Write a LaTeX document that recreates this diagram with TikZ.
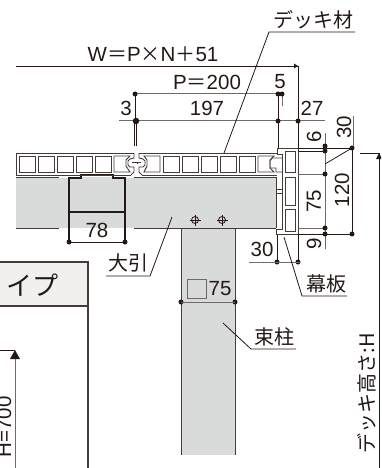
\documentclass[tikz,border=0pt]{standalone}
\usepackage{fontspec}
\setmainfont{Liberation Sans}
\newfontfamily\jpfont{Noto Sans CJK JP}
\definecolor{ink}{HTML}{231815}
\definecolor{beam}{HTML}{D9DBDA}
\definecolor{dimgr}{HTML}{6E6A68}
\definecolor{boxfill}{HTML}{F1F0EE}
\tikzset{
  dimline/.style={draw=ink,line width=0.8pt},
  greyline/.style={draw=dimgr,line width=1pt},
  outline/.style={draw=ink!85,line width=1pt},
  heavy/.style={draw=ink,line width=1.4pt},
  cellbox/.style={draw=ink!85,line width=0.95pt},
  numlabel/.style={text=ink,inner sep=0pt,font=\fontsize{20.5}{20.5}\selectfont},
  jplabel/.style={text=ink,inner sep=0pt,font=\jpfont\fontsize{20}{20}\selectfont},
  dotmark/.style={circle,fill=ink,inner sep=0pt,minimum size=5pt},
}
\newcommand{\wsym}[1]{{\jpfont\fontsize{20}{20}\selectfont #1}}
\begin{document}
\begin{tikzpicture}[x=1pt,y=-1pt]
\useasboundingbox (0,0) rectangle (381,468);
\clip (0,0) rectangle (381,468);
% beam and post
\fill[beam] (16,177) rectangle (276,228);
\fill[beam] (181,228) rectangle (235,455);
\draw[outline] (16,177) -- (59,177) (134,177) -- (276,177);
\draw[outline] (16,228) -- (59,228) (134,228) -- (276,228);
\draw[outline] (276,177) -- (276,228);
\draw[outline] (181,228) -- (181,455) (235,228) -- (235,455);
% channel
\fill[white] (59,176) rectangle (69,177.6);
\fill[white] (125,176) rectangle (134,177.6);
\draw[heavy] (69,243) -- (69,178) -- (81,178) -- (81,175) -- (113,175) -- (113,178) -- (125,178) -- (125,243);
\draw[heavy] (69,212) -- (125,212);
% deck board
\draw[cellbox] (16,153) -- (134,153) (139,153) -- (277,153);
\draw[cellbox] (16,175) -- (131,175) (142,175) -- (277,175);
\draw[cellbox] (16,153) -- (16,175);
\foreach \x in {19,38,57,76,95} \draw[cellbox] (\x,156) rectangle +(16,16);
\draw[cellbox] (114,156) -- (130,156) -- (126,160) -- (126,166) -- (130,172) -- (114,172) -- cycle;
\foreach \x in {163,182,201,220,239} \draw[cellbox] (\x,156) rectangle +(16,16);
\draw[cellbox] (144,172) -- (160,172) -- (160,156) -- (144,156) -- (147,160) -- (147,166) -- cycle;
\draw[cellbox] (258,156) -- (274,156) -- (270,160) -- (270,168) -- (274,172) -- (258,172) -- cycle;
% joint
\draw[cellbox] (134,153) -- (134,158) -- (130,159) -- (128,161) -- (128,165) -- (130,167) -- (134,167) -- (134,172) -- (131,175);
\draw[cellbox] (139,153) -- (139,158) -- (143,159) -- (145,161) -- (145,165) -- (143,167) -- (139,167) -- (139,172) -- (142,175);
\draw[cellbox] (132,162) -- (137,162) -- (137,164) (141,162) -- (136.5,162);
% skirt board
\draw[cellbox] (298,234) -- (298,148) -- (277,148) -- (277,154) -- (282,154) -- (282,229) -- (276,229) -- (276,234) -- (298,234);
\draw[cellbox] (282,158) -- (272,158) -- (270,161) -- (270,168) -- (276,168) -- (276,172) -- (282,172);
\draw[cellbox] (276,189) -- (282,189) (276,193) -- (282,193);
\foreach \ya/\yb in {151/172,177/205,209/231} \draw[cellbox] (285,\ya) rectangle (295,\yb);
% bolts
\foreach \x in {195,222} {
  \draw[ink,line width=0.8pt] (\x,220) circle (3.5);
  \draw[ink,line width=0.8pt] (\x-5.5,220) -- (\x+5.5,220) (\x,214.5) -- (\x,225.5);
}
% overall dims
\coordinate (wa) at (16,66); \coordinate (wb) at (298,66);
\draw[dimline] (wa) -- (wb);
\fill[ink] (298,66) -- (294,63.5) -- (294,68.5) -- cycle;
\draw[dimline] (298,66) -- (298,148);
\coordinate (pa) at (135,94); \coordinate (pb) at (278,94);
\draw[greyline] (pa) -- (pb);
\draw[dimline] (pa) -- (135,121);
\draw[dimline] (pb) -- (278,148);
\draw[greyline] (282,94) -- (282,106);
\draw[greyline] (119,121) -- (325,121);
\draw[ink,line width=2.8pt] (135.7,121) -- (135.7,146);
\draw[white,line width=0.5pt] (135.7,123) -- (135.7,146);
\foreach \p in {(135,94),(278,94),(282,94),(278,121),(298,121)} \node[dotmark] at \p {};
\node[dotmark,minimum size=6.5pt] at (136,121) {};
% right dims
\draw[dimline] (298,148) -- (353,148);
\draw[dimline] (298,151) -- (325,151);
\draw[greyline] (298,174) -- (325,174);
\draw[greyline] (298,228) -- (325,228);
\draw[dimline] (298,234) -- (353,234);
\draw[greyline] (325,133) -- (325,249);
\draw[dimline] (352,148) -- (352,234);
\draw[greyline] (353,116) -- (353,148);
\draw[dimline] (325,164) -- (352,148);
\foreach \p in {(325,146),(325,151),(352,148),(325,174),(325,228),(325,234),(352,234),(277,262),(298,262),(69,242),(125,242),(181,302),(235,302)} \node[dotmark] at \p {};
% lower dims
\draw[greyline] (249,262) -- (300,262);
\draw[dimline] (277,235) -- (277,262) (298,235) -- (298,262);
\draw[dimline] (69,242) -- (125,242);
\draw[greyline] (181,302) -- (235,302);
\draw[draw=dimgr,line width=0.8pt] (187,279) rectangle (206,298);
% labels
\node[numlabel] (lw) at (153,54) {W\wsym{＝}P\wsym{×}N\wsym{＋}51};
\node[numlabel] (lp) at (207,82) {P\wsym{＝}200};
\node[numlabel] (l5) at (280,82) {5};
\node[numlabel] (l3) at (126,108) {3};
\node[numlabel] (l197) at (207,108) {197};
\node[numlabel] (l27) at (312,108) {27};
\node[numlabel,rotate=90] (l6) at (314,137) {6};
\node[numlabel,rotate=90] (l30a) at (344,127) {30};
\node[numlabel,rotate=90] (l75a) at (314,201) {75};
\node[numlabel,rotate=90] (l120) at (342,190) {120};
\node[numlabel,rotate=90] (l9) at (314,244) {9};
\node[numlabel] (l30b) at (262,249) {30};
\node[numlabel] (l78) at (97,230) {78};
\node[numlabel] (l75b) at (220,289) {75};
% leaders
\node[jplabel] (tdeck) at (313,20) {デッキ材};
\draw[dimline] (355,32) -- (269,32) -- (224,153);
\node[jplabel] (tobiki) at (128,263) {大引};
\draw[dimline] (106,276) -- (150,276) -- (172,217);
\node[jplabel] (tmaku) at (326,284) {幕板};
\draw[dimline] (347,296) -- (302,296) -- (284,237);
\node[jplabel] (ttsuka) at (274,337) {束柱};
\draw[dimline] (296,349) -- (251,349) -- (223,323);
% deck height
\draw[dimline] (360,153) -- (379,153) -- (379,468);
\fill[ink] (379,153) -- (376,159) -- (382,159) -- cycle;
\node[jplabel,rotate=90,anchor=center] (theight) at (367,393) {デッキ高さ:H};
% table
\fill[boxfill] (-1,262) rectangle (88,306);
\draw[draw=ink!85,line width=1.2pt] (-1,262) -- (88,262) -- (88,468);
\draw[draw=ink!85,line width=1.2pt] (-1,306) -- (88,306);
\node[jplabel,font=\jpfont\fontsize{26}{26}\selectfont,anchor=center] (ttype) at (32,285) {イプ};
\draw[dimline] (-1,350) -- (15,350);
\draw[greyline] (15,355) -- (15,468);
\fill[ink] (15,350) -- (10,359) -- (20,359) -- cycle;
\node[numlabel,rotate=90] (lh) at (4,427) {H=700};
\end{tikzpicture}
\end{document}
